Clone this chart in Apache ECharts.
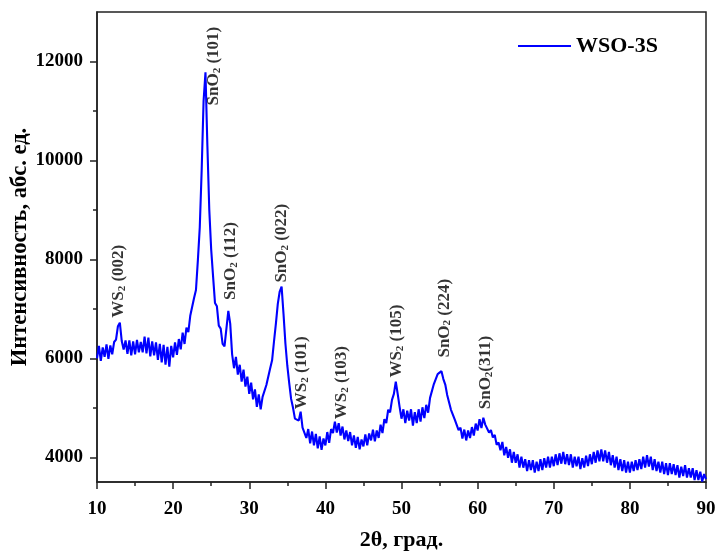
<!DOCTYPE html>
<html>
<head>
<meta charset="utf-8">
<script src="https://cdn.jsdelivr.net/npm/echarts@6/dist/echarts.min.js"></script>
<style>
  html, body { margin: 0; padding: 0; background: #fff; }
  #main { width: 716px; height: 555px; }
</style>
</head>
<body>
<div id="main"></div>
<script>
// XRD pattern, 2theta from 10 to 90 step 0.25
const thetaStart = 10;
const thetaStep = 0.25;
const intensity = [
  6000, 6250, 5950, 6220,  6030, 6280, 5990, 6260,  6080, 6330, 6380, 6650,  6720, 6350, 6180, 6360,
  6090, 6360, 6060, 6340,  6080, 6370, 6120, 6330,  6120, 6440, 6100, 6420,  6040, 6340, 6060, 6320,
  5970, 6290, 5920, 6270,  5870, 6230, 5830, 6250,  6020, 6320, 6070, 6390,  6180, 6520, 6290, 6620,
  6530, 6860, 6850, 7220,  7380, 7980, 8650, 9800,  11200, 11780, 10300, 9000,  8200, 7650, 7120, 7050,
  6660, 6600, 6290, 6240,  6280, 6960, 6700, 6080,  5800, 6030, 5670, 5870,  5530, 5770, 5430, 5630,
  5280, 5510, 5170, 5370,  5020, 5270, 4970, 5220,  5180, 5460, 5490, 5800,  5960, 6340, 6700, 7100,
  7350, 7450, 6900, 6300,  5850, 5500, 5180, 5000,  4780, 4770, 4740, 4920,  4600, 4610, 4390, 4570,
  4280, 4520, 4240, 4470,  4180, 4420, 4150, 4380,  4240, 4510, 4290, 4570,  4490, 4720, 4500, 4690,
  4440, 4620, 4360, 4540,  4330, 4510, 4240, 4440,  4190, 4410, 4160, 4360,  4220, 4460, 4240, 4480,
  4340, 4560, 4320, 4540,  4390, 4660, 4490, 4770,  4690, 4960, 4910, 5160,  5280, 5530, 5280, 5020,
  4780, 4970, 4690, 4940,  4740, 4970, 4640, 4910,  4690, 4970, 4720, 5010,  4790, 5060, 4900, 5200,
  5220, 5480, 5520, 5680,  5690, 5740, 5580, 5470,  5260, 5240, 4960, 4990,  4760, 4750, 4550, 4600,
  4380, 4560, 4340, 4540,  4390, 4610, 4440, 4680,  4540, 4770, 4590, 4800,  4660, 4700, 4500, 4550,
  4400, 4450, 4250, 4300,  4140, 4310, 4040, 4210,  3990, 4160, 3890, 4110,  3890, 4060, 3790, 4010,
  3790, 3960, 3720, 3940,  3740, 3940, 3690, 3910,  3720, 3960, 3740, 3980,  3790, 4010, 3790, 4010,
  3820, 4060, 3840, 4080,  3870, 4110, 3860, 4060,  3840, 4060, 3790, 4010,  3820, 4010, 3760, 3980,
  3790, 4030, 3820, 4060,  3860, 4110, 3890, 4140,  3920, 4160, 3920, 4140,  3890, 4110, 3840, 4040,
  3790, 4010, 3740, 3960,  3720, 3940, 3690, 3910,  3690, 3910, 3720, 3940,  3740, 3960, 3760, 4010,
  3790, 4040, 3810, 4010,  3740, 3960, 3720, 3910,  3690, 3910, 3660, 3880,  3640, 3880, 3660, 3860,
  3640, 3840, 3590, 3810,  3620, 3840, 3590, 3780,  3590, 3780, 3540, 3740,  3540, 3710, 3510, 3660,
  3560
];

// peak labels: compound, index, anchor (bottom of the rotated text)
const peakCompound = ['WS', 'SnO', 'SnO', 'SnO', 'WS', 'WS', 'WS', 'SnO', 'SnO'];
const peakIndex = [' (002)', ' (101)', ' (112)', ' (022)', ' (101)', ' (103)', ' (105)', ' (224)', '(311)'];
const peakTheta = [12.9, 25.3, 27.6, 34.3, 36.9, 42.1, 49.3, 55.6, 61.1];
const peakLevel = [6820, 11110, 7180, 7530, 4970, 4770, 5610, 6015, 4970];

const yLabelTicks = [4000, 6000, 8000, 10000, 12000];
const yMinorTicks = [5000, 7000, 9000, 11000];

const font = 'Liberation Serif, Times New Roman, serif';

const curve = intensity.map((v, i) => [thetaStart + i * thetaStep, v]);
const peaks = peakTheta.map((t, i) => ({
  value: [t, peakLevel[i]],
  name: '{n|' + peakCompound[i] + '}{s|2}{n|' + peakIndex[i] + '}'
}));

const chart = echarts.init(document.getElementById('main'));
chart.setOption({
  backgroundColor: '#fff',
  animation: false,
  grid: {
    left: 97, right: 10, top: 12, bottom: 73,
    outerBoundsMode: 'none',
    show: true, borderColor: '#222', borderWidth: 1.5, backgroundColor: 'transparent'
  },
  legend: {
    data: ['WSO-3S'],
    left: 513, top: 30,
    icon: 'rect',
    itemWidth: 53, itemHeight: 2, itemGap: 6,
    textStyle: { fontFamily: font, fontWeight: 'bold', fontSize: 22, color: '#000' }
  },
  xAxis: {
    type: 'value', min: 10, max: 90, interval: 10,
    name: '2θ, град.', nameLocation: 'middle', nameGap: 47,
    nameTextStyle: { fontFamily: font, fontWeight: 'bold', fontSize: 22, color: '#000' },
    axisLine: { lineStyle: { color: '#222', width: 1.5 } },
    axisTick: { length: 7, lineStyle: { color: '#222', width: 1.5 } },
    minorTick: { show: true, splitNumber: 2, length: 4, lineStyle: { color: '#222', width: 1.5 } },
    axisLabel: { margin: 18, fontFamily: font, fontWeight: 'bold', fontSize: 19, color: '#000' },
    splitLine: { show: false }
  },
  yAxis: [{
    type: 'value', min: 3500, max: 13000,
    name: 'Интенсивность, абс. ед.', nameLocation: 'middle', nameGap: 65,
    nameMoveOverlap: false,
    nameTextStyle: { fontFamily: font, fontWeight: 'bold', fontSize: 22.5, color: '#000' },
    axisLine: { show: true, lineStyle: { color: '#222', width: 1.5 } },
    axisTick: { show: true, length: 7, customValues: yLabelTicks, lineStyle: { color: '#222', width: 1.5 } },
    axisLabel: {
      margin: 14, customValues: yLabelTicks, formatter: v => String(v),
      fontFamily: font, fontWeight: 'bold', fontSize: 19, color: '#000'
    },
    splitLine: { show: false }
  }, {
    type: 'value', min: 3500, max: 13000, position: 'left',
    axisLine: { show: false },
    axisTick: { show: true, length: 4, customValues: yMinorTicks, lineStyle: { color: '#222', width: 1.5 } },
    axisLabel: { show: false },
    splitLine: { show: false }
  }],
  series: [{
    name: 'WSO-3S',
    type: 'line',
    data: curve,
    symbol: 'none',
    color: '#0000ff',
    lineStyle: { width: 2.1, color: '#0000ff' },
    z: 3
  }, {
    name: 'peaks',
    type: 'scatter',
    data: peaks,
    symbolSize: 0,
    silent: true,
    z: 4,
    label: {
      show: true,
      position: [0, 0],
      rotate: 90,
      align: 'left',
      verticalAlign: 'middle',
      formatter: p => p.name,
      rich: {
        n: { fontFamily: font, fontWeight: 'bold', fontSize: 17, color: '#000', lineHeight: 18 },
        s: { fontFamily: font, fontWeight: 'bold', fontSize: 11, color: '#000', verticalAlign: 'bottom', lineHeight: 18, padding: [6, 0, 0, 0] }
      }
    }
  }]
});
</script>
</body>
</html>
